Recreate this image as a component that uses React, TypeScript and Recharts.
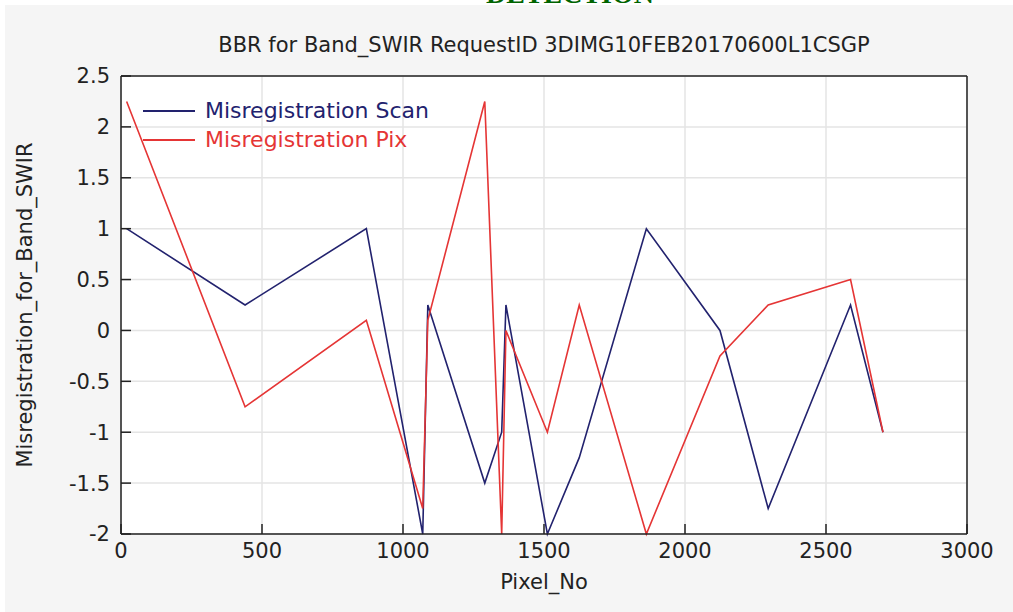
import React from 'react'
import { LineChart, Line, XAxis, YAxis, CartesianGrid } from 'recharts'

const pixelNo = [20, 440, 870, 1070, 1088, 1290, 1350, 1365, 1512, 1625, 1863, 2124, 2295, 2587, 2702]
const misregScan = [1, 0.25, 1, -2, 0.25, -1.5, -1, 0.25, -2, -1.25, 1, 0, -1.75, 0.25, -1]
const misregPix = [2.25, -0.75, 0.1, -1.75, 0.1, 2.25, -2, 0, -1, 0.25, -2, -0.25, 0.25, 0.5, -1]

const xTicks = [0, 500, 1000, 1500, 2000, 2500, 3000]
const yTicks = [-2, -1.5, -1, -0.5, 0, 0.5, 1, 1.5, 2, 2.5]

const SCAN_COLOR = '#22226e'
const PIX_COLOR = '#e53535'
const FONT = '"DejaVu Sans", sans-serif'

const series = [
  { key: 'scan', name: 'Misregistration Scan', color: SCAN_COLOR },
  { key: 'pix', name: 'Misregistration Pix', color: PIX_COLOR },
]

const data = pixelNo.map((x, i) => ({
  x,
  scan: misregScan[i],
  pix: misregPix[i],
}))

const tickStyle = { fill: '#222', fontSize: 21, fontFamily: FONT }

export default function App() {
  return (
    <div style={{ position: 'absolute', left: 0, top: 0, width: 1013, height: 612, background: '#fff', overflow: 'hidden' }}>
      <div
        style={{
          position: 'absolute',
          left: 0,
          width: 1013,
          top: -22,
          textAlign: 'center',
          paddingLeft: 127,
          boxSizing: 'border-box',
          fontFamily: 'serif',
          fontWeight: 'bold',
          fontSize: 28,
          color: '#006400',
        }}
      >
        DETECTION
      </div>
      <div style={{ position: 'absolute', left: 5, top: 5, width: 1008, height: 607, background: '#f5f5f5' }} />

      <div style={{ position: 'absolute', left: 0, top: 0 }}>
        <LineChart width={1013} height={612} data={data} margin={{ top: 75, right: 45, bottom: 77, left: 120 }}>
          <CartesianGrid stroke="#e4e4e4" fill="#ffffff" strokeWidth={1.5} />
          <XAxis
            dataKey="x"
            type="number"
            domain={[0, 3000]}
            ticks={xTicks}
            interval={0}
            height={1}
            tickSize={-10}
            tickMargin={19}
            stroke="#222"
            strokeWidth={1.5}
            tick={tickStyle}
          />
          <XAxis
            xAxisId="top"
            orientation="top"
            dataKey="x"
            type="number"
            domain={[0, 3000]}
            allowDataOverflow
            ticks={xTicks}
            interval={0}
            height={1}
            tickSize={-10}
            tick={false}
            stroke="#222"
            strokeWidth={1.5}
          />
          <YAxis
            type="number"
            domain={[-2, 2.5]}
            ticks={yTicks}
            interval={0}
            width={1}
            tickSize={-10}
            tickMargin={21}
            stroke="#222"
            strokeWidth={1.5}
            tick={tickStyle}
          />
          <YAxis
            yAxisId="right"
            orientation="right"
            type="number"
            domain={[-2, 2.5]}
            allowDataOverflow
            ticks={yTicks}
            interval={0}
            width={1}
            tickSize={-10}
            tick={false}
            stroke="#222"
            strokeWidth={1.5}
          />
          {series.map((s) => (
            <Line
              key={s.key}
              dataKey={s.key}
              name={s.name}
              stroke={s.color}
              strokeWidth={1.6}
              dot={false}
              activeDot={false}
              isAnimationActive={false}
            />
          ))}
        </LineChart>
      </div>

      <div style={{ position: 'absolute', left: 143, top: 96, fontFamily: FONT, fontSize: 22 }}>
        {series.map((s) => (
          <div key={s.key} style={{ display: 'flex', alignItems: 'center', height: 29 }}>
            <div style={{ width: 52, height: 0, borderTop: `2px solid ${s.color}`, marginRight: 10 }} />
            <span style={{ color: s.color }}>{s.name}</span>
          </div>
        ))}
      </div>

      <div
        style={{
          position: 'absolute',
          left: 0,
          width: 1088,
          top: 33,
          textAlign: 'center',
          fontFamily: FONT,
          fontSize: 21,
          color: '#222',
        }}
      >
        BBR for Band_SWIR RequestID 3DIMG10FEB20170600L1CSGP
      </div>
      <div
        style={{
          position: 'absolute',
          left: 0,
          width: 1088,
          top: 570,
          textAlign: 'center',
          fontFamily: FONT,
          fontSize: 21,
          color: '#222',
        }}
      >
        Pixel_No
      </div>
      <div
        style={{
          position: 'absolute',
          left: 25,
          top: 305,
          transform: 'translate(-50%, -50%) rotate(-90deg)',
          whiteSpace: 'nowrap',
          fontFamily: FONT,
          fontSize: 21,
          color: '#222',
        }}
      >
        Misregistration_for_Band_SWIR
      </div>
    </div>
  )
}
